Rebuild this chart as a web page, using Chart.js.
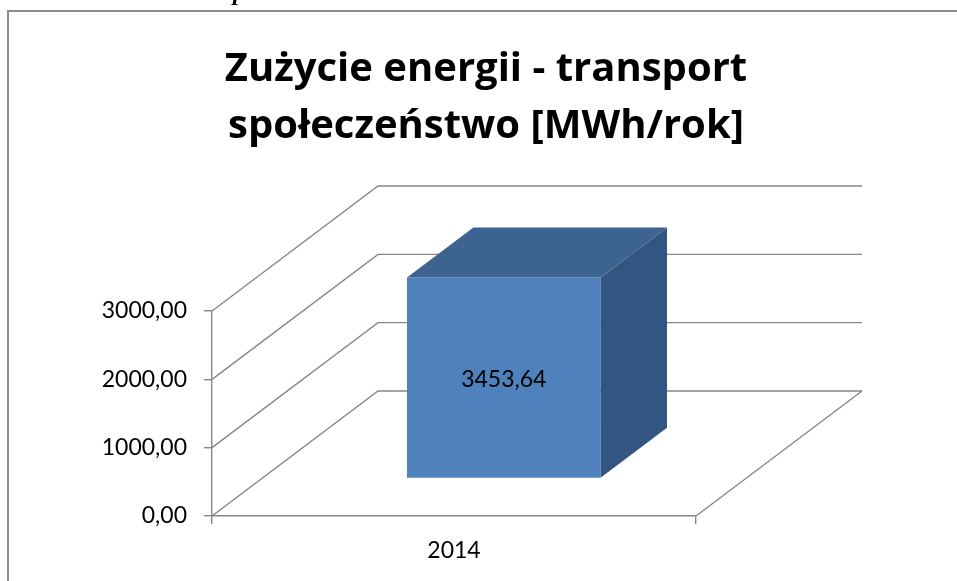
<!DOCTYPE html>
<html>
<head>
<meta charset="utf-8">
<script src="https://cdn.jsdelivr.net/npm/chart.js@4.4.1/dist/chart.umd.min.js"></script>
<style>
  html, body { margin: 0; padding: 0; background: #ffffff; overflow: hidden; }
  #wrap { width: 957px; height: 581px; position: relative; }
</style>
</head>
<body>
<div id="wrap"><canvas id="c" width="957" height="581"></canvas></div>
<script>
// ---- data ----
const titleLines = ['Zużycie energii - transport', 'społeczeństwo [MWh/rok]'];
const categories = ['2014'];
const seriesName = 'Zużycie energii - transport';
const values = [3453.64];
const yTickValues = [0, 1000, 2000, 3000];
const yMin = 0;
const yMax = 3000;
const yStep = 1000;

// ---- style constants ----
const FONT = 'Lato, "Open Sans", "DejaVu Sans", sans-serif';
const TITLE_FONT = '"Open Sans", Lato, "DejaVu Sans", sans-serif';
const GRID = '#878787';
const DEPTH_X = 166;   // oblique depth offset of the whole plot box
const DEPTH_Y = -125;
const BAR_FRONT = 0.3; // bar sits between 30% and 70% of the depth
const BAR_DEPTH = 0.4;
const FRONT_COLOR = '#4F81BD';
const TOP_COLOR = '#3D6390';
const SIDE_COLOR = '#335581';

function fmt(v) { return v.toFixed(2).replace('.', ','); }

const framePlugin = {
  id: 'frame',
  beforeDraw(chart) {
    const ctx = chart.ctx;
    ctx.save();
    ctx.fillStyle = '#ffffff';
    ctx.fillRect(0, 0, chart.width, chart.height);
    ctx.strokeStyle = '#8c8c8c';
    ctx.lineWidth = 2;
    ctx.beginPath();
    ctx.moveTo(8, chart.height);
    ctx.lineTo(8, 11);
    ctx.lineTo(chart.width, 11);
    ctx.stroke();
    // fragment of the document text above the chart frame
    ctx.fillStyle = '#000';
    ctx.font = 'italic bold 24px "Liberation Serif", serif';
    ctx.textBaseline = 'alphabetic';
    ctx.fillText('p', 233, 0);
    // chart title
    ctx.font = 'bold 40px ' + TITLE_FONT;
    ctx.textAlign = 'center';
    ctx.textBaseline = 'middle';
    const cx = 486;
    titleLines.forEach((line, i) => ctx.fillText(line, cx, 70 + i * 57));
    ctx.restore();
  }
};

const wallsPlugin = {
  id: 'walls',
  beforeDatasetsDraw(chart) {
    const ctx = chart.ctx;
    const ys = chart.scales.y;
    const L = chart.chartArea.left, R = chart.chartArea.right;
    const B = ys.getPixelForValue(yMin);
    ctx.save();
    ctx.strokeStyle = GRID;
    ctx.lineWidth = 1.4;
    ctx.beginPath();
    for (const v of yTickValues) {
      const y = ys.getPixelForValue(v);
      ctx.moveTo(L, y);
      ctx.lineTo(L + DEPTH_X, y + DEPTH_Y);
      ctx.lineTo(R + DEPTH_X, y + DEPTH_Y);
    }
    ctx.moveTo(R, B);
    ctx.lineTo(R + DEPTH_X, B + DEPTH_Y);
    ctx.stroke();
    ctx.restore();
  },
  beforeDatasetDraw(chart) {
    const ctx = chart.ctx;
    ctx.save();
    ctx.translate(DEPTH_X * BAR_FRONT, DEPTH_Y * BAR_FRONT);
  },
  afterDatasetDraw(chart, args) {
    const ctx = chart.ctx;
    const meta = args.meta;
    const dx = DEPTH_X * BAR_DEPTH, dy = DEPTH_Y * BAR_DEPTH;
    const topLimit = chart.chartArea.top + 4;
    meta.data.forEach((bar, i) => {
      const p = bar.getProps(['x', 'y', 'base', 'width'], true);
      const l = p.x - p.width / 2, r = p.x + p.width / 2;
      const t = Math.max(p.y, topLimit);
      const b = p.base;
      // side face
      ctx.fillStyle = SIDE_COLOR;
      ctx.beginPath();
      ctx.moveTo(r, t); ctx.lineTo(r + dx, t + dy); ctx.lineTo(r + dx, b + dy); ctx.lineTo(r, b);
      ctx.closePath(); ctx.fill();
      // top face
      ctx.fillStyle = TOP_COLOR;
      ctx.beginPath();
      ctx.moveTo(l, t); ctx.lineTo(l + dx, t + dy); ctx.lineTo(r + dx, t + dy); ctx.lineTo(r, t);
      ctx.closePath(); ctx.fill();
      // value label
      ctx.fillStyle = '#000000';
      ctx.font = '23px ' + FONT;
      ctx.textAlign = 'center';
      ctx.textBaseline = 'middle';
      ctx.fillText(fmt(chart.data.datasets[meta.index].data[i]), p.x, (t + b) / 2 + 2);
    });
    ctx.restore();
  }
};

new Chart(document.getElementById('c'), {
  type: 'bar',
  data: {
    labels: categories,
    datasets: [{
      label: seriesName,
      data: values,
      backgroundColor: FRONT_COLOR,
      borderWidth: 0,
      barPercentage: 0.4,
      categoryPercentage: 1.0,
      clip: { left: false, right: false, top: -4, bottom: false }
    }]
  },
  options: {
    responsive: false,
    animation: false,
    devicePixelRatio: 1,
    layout: { padding: { left: 8, right: 261, top: 311, bottom: 0 } },
    plugins: {
      legend: { display: false },
      tooltip: { enabled: false },
      title: { display: false }
    },
    scales: {
      x: {
        type: 'category',
        offset: true,
        grid: { display: true, drawOnChartArea: false, drawTicks: true, tickLength: 8, color: GRID, lineWidth: 1.4, offset: true },
        border: { display: true, color: GRID, width: 1.4 },
        ticks: { color: '#000000', font: { family: FONT, size: 23 }, padding: 13, maxRotation: 0 },
        afterFit(scale) { scale.height = 65; }
      },
      y: {
        min: yMin,
        max: yMax,
        grid: { display: true, drawOnChartArea: false, drawTicks: true, tickLength: 8, color: GRID, lineWidth: 1.4 },
        border: { display: true, color: GRID, width: 1.4 },
        ticks: {
          stepSize: yStep,
          color: '#000000',
          font: { family: FONT, size: 23 },
          padding: 17,
          callback: (v) => fmt(v)
        },
        afterFit(scale) { scale.width = 204; }
      }
    }
  },
  plugins: [framePlugin, wallsPlugin]
});
</script>
</body>
</html>
